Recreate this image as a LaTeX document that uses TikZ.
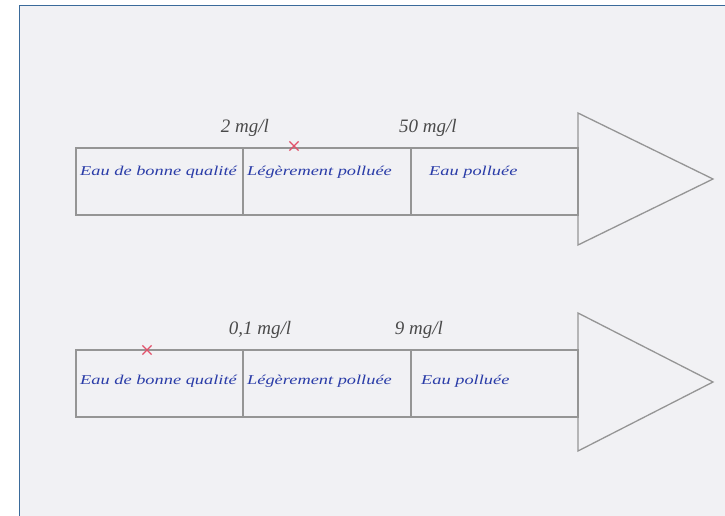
\documentclass[tikz,border=0pt]{standalone}
\usepackage{fontspec}
\setmainfont{Liberation Serif}
\newfontfamily\hand[FakeStretch=1.36]{Liberation Serif}
\usetikzlibrary{shapes.misc}
\definecolor{paper}{HTML}{F1F1F4}
\definecolor{framecol}{HTML}{3A6A9A}
\definecolor{pencil}{HTML}{959595}
\definecolor{ink}{HTML}{2A3CA8}
\definecolor{graphite}{HTML}{4A4A4A}
\definecolor{redink}{HTML}{E2506A}
\begin{document}
\begin{tikzpicture}[x=1pt,y=-1pt,
  cell/.style={draw=pencil, line width=1.3pt, minimum height=67pt, anchor=north west, inner sep=0pt, outer sep=0pt},
  celltext/.style={font=\hand\itshape\fontsize{13.5}{13.5}\selectfont, text=ink, anchor=west, inner sep=0pt},
  limit/.style={font=\itshape\fontsize{19}{19}\selectfont, text=graphite, inner sep=0pt},
  redcross/.style={cross out, draw=redink, line width=1.2pt, minimum size=8pt, inner sep=0pt},
  arrowhead/.style={draw=pencil, line width=1.3pt, line join=miter}]
  \useasboundingbox (0,0) rectangle (725,516);
  % sheet and its frame
  \fill[white] (0,0) rectangle (725,516);
  \fill[paper] (19.5,5.5) rectangle (725,516);
  \draw[framecol, line width=1.8pt] (19.5,516) -- (19.5,5.5) -- (725,5.5);

  % first scale
  \node[cell, minimum width=167pt] (a1) at (76,148) {};
  \node[cell, minimum width=168pt] (a2) at (a1.north east) {};
  \node[cell, minimum width=167pt] (a3) at (a2.north east) {};
  \coordinate (at1) at (578,113);
  \coordinate (at2) at (713,179);
  \coordinate (at3) at (578,245);
  \draw[arrowhead] (at1) -- (at2) -- (at3) -- cycle;
  \node[celltext] (ta1) at ([xshift=4pt,yshift=-24pt]a1.north west) {Eau de bonne qualité};
  \node[celltext] (ta2) at ([xshift=4pt,yshift=-24pt]a2.north west) {Légèrement polluée};
  \node[celltext] (ta3) at ([xshift=18pt,yshift=-24pt]a3.north west) {Eau polluée};
  \node[limit] (la1) at (245,128) {2 mg/l};
  \node[limit] (la2) at (428,128) {50 mg/l};
  \node[redcross] (xa) at (294,146) {};

  % second scale
  \node[cell, minimum width=167pt] (b1) at (76,350) {};
  \node[cell, minimum width=168pt] (b2) at (b1.north east) {};
  \node[cell, minimum width=167pt] (b3) at (b2.north east) {};
  \coordinate (bt1) at (578,313);
  \coordinate (bt2) at (713,382);
  \coordinate (bt3) at (578,451);
  \draw[arrowhead] (bt1) -- (bt2) -- (bt3) -- cycle;
  \node[celltext] (tb1) at ([xshift=4pt,yshift=-31pt]b1.north west) {Eau de bonne qualité};
  \node[celltext] (tb2) at ([xshift=4pt,yshift=-31pt]b2.north west) {Légèrement polluée};
  \node[celltext] (tb3) at ([xshift=10pt,yshift=-31pt]b3.north west) {Eau polluée};
  \node[limit] (lb1) at (260,330) {0,1 mg/l};
  \node[limit] (lb2) at (419,330) {9 mg/l};
  \node[redcross] (xb) at (147,350) {};
\end{tikzpicture}
\end{document}
